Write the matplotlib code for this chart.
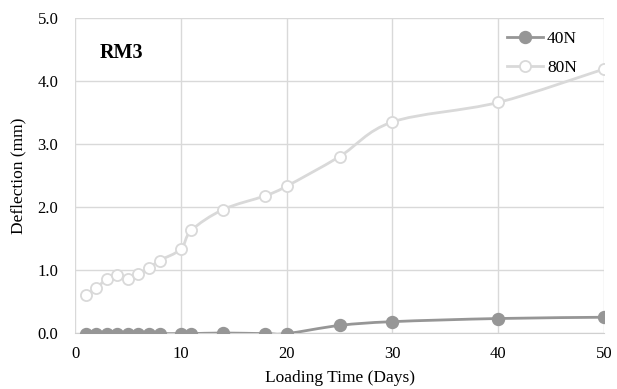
import numpy as np
import matplotlib
matplotlib.use('Agg')
import matplotlib.pyplot as plt
from matplotlib.path import Path
from matplotlib.patches import PathPatch

# loading time (days) and deflection (mm)
days = [1, 2, 3, 4, 5, 6, 7, 8, 10, 11, 14, 18, 20, 25, 30, 40, 50]
defl_40n = [-0.01, -0.01, -0.01, -0.01, -0.01, -0.01, -0.01, -0.01, -0.01, -0.01, 0.0,
            -0.01, -0.01, 0.12, 0.18, 0.23, 0.25]
defl_80n = [0.60, 0.71, 0.86, 0.92, 0.86, 0.93, 1.03, 1.15, 1.33, 1.63, 1.96,
            2.18, 2.33, 2.80, 3.35, 3.66, 4.19]
x_ticks = [0, 10, 20, 30, 40, 50]
y_ticks = [0.0, 1.0, 2.0, 3.0, 4.0, 5.0]

plt.rcParams['font.family'] = ['Liberation Serif', 'DejaVu Serif']


# excel style smoothed line: cubic bezier through the points
def smooth_path(x, y, tension=0.5):
    x = np.asarray(x, float)
    y = np.asarray(y, float)
    n = len(x)
    verts = [(x[0], y[0])]
    codes = [Path.MOVETO]
    for i in range(n - 1):
        x0, y0 = (x[i - 1], y[i - 1]) if i > 0 else (x[i], y[i])
        x3, y3 = (x[i + 2], y[i + 2]) if i + 2 < n else (x[i + 1], y[i + 1])
        c1 = (x[i] + (x[i + 1] - x0) * tension / 3, y[i] + (y[i + 1] - y0) * tension / 3)
        c2 = (x[i + 1] - (x3 - x[i]) * tension / 3, y[i + 1] - (y3 - y[i]) * tension / 3)
        verts += [c1, c2, (x[i + 1], y[i + 1])]
        codes += [Path.CURVE4] * 3
    return Path(verts, codes)


fig = plt.figure(figsize=(6.17, 3.89), dpi=100)
ax = fig.add_axes([75 / 617, 1 - 333 / 389, 529 / 617, 315 / 389])

c40 = '#969696'
c80 = '#d9d9d9'

ax.add_patch(PathPatch(smooth_path(days, defl_80n), fill=False, edgecolor=c80, lw=2.0, zorder=3))
ax.add_patch(PathPatch(smooth_path(days, defl_40n), fill=False, edgecolor=c40, lw=2.0, zorder=3))
ax.plot(days, defl_40n, ls='none', marker='o', ms=8.6, color=c40, zorder=4)
ax.plot(days, defl_80n, ls='none', marker='o', ms=8, mfc='white', mec=c80, mew=1.3, zorder=4)

# legend proxies
h40, = ax.plot([], [], color=c40, lw=2.0, marker='o', ms=8.6, label='40N')
h80, = ax.plot([], [], color=c80, lw=2.0, marker='o', ms=8, mfc='white', mec=c80, mew=1.3, label='80N')
ax.legend(handles=[h40, h80], loc='upper right', bbox_to_anchor=(0.962, 0.98), frameon=False,
          fontsize=12.5, handlelength=2.1, handletextpad=0.2, borderaxespad=0, labelspacing=0.7)

ax.set_xlim(0, 50)
ax.set_ylim(0, 5)
ax.set_xticks(x_ticks)
ax.set_yticks(y_ticks)
ax.set_yticklabels([f'{v:.1f}' for v in y_ticks])
ax.grid(True, color='#d9d9d9', lw=1.0)
ax.set_axisbelow(True)
for s in ['top', 'right', 'left']:
    ax.spines[s].set_visible(False)
ax.spines['bottom'].set_color('#d0d0d0')
ax.tick_params(length=0, labelsize=12, colors='#000000')
ax.tick_params(axis='x', pad=9)
ax.tick_params(axis='y', pad=12)

ax.set_xlabel('Loading Time (Days)', fontsize=12.5, labelpad=6)
ax.set_ylabel('Deflection (mm)', fontsize=12.5, labelpad=8)
ax.text(0.047, 0.89, 'RM3', transform=ax.transAxes, fontsize=14.5, fontweight='bold', va='center')

fig.savefig('out.png', dpi=100)
